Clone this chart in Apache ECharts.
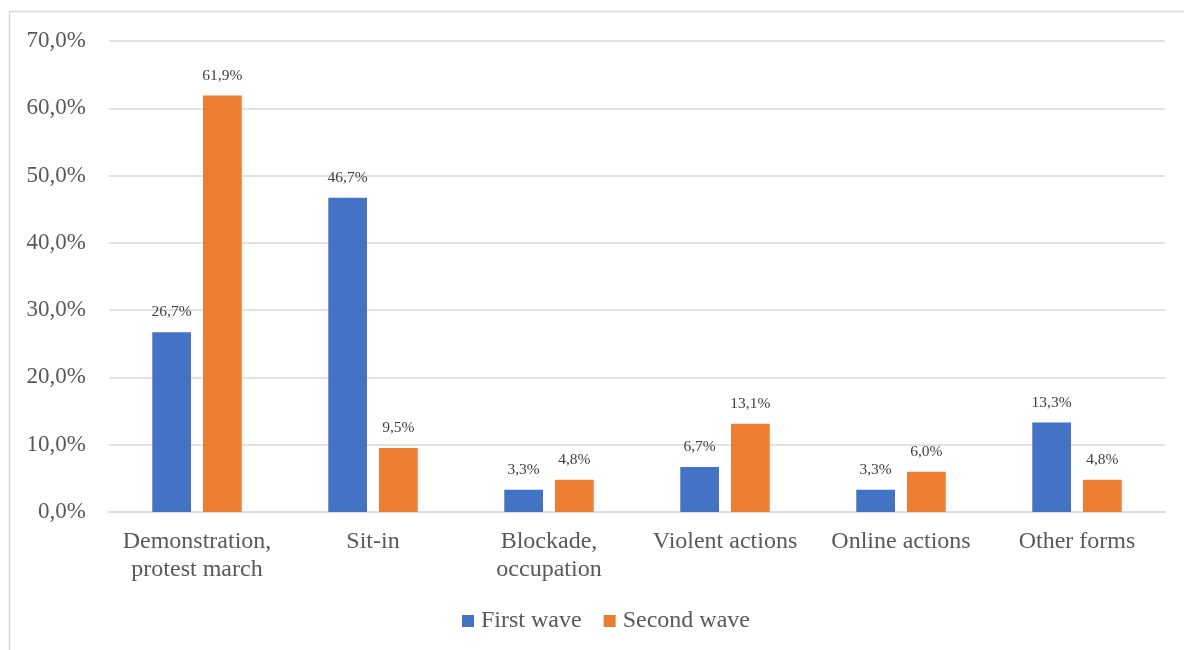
<!DOCTYPE html>
<html>
<head>
<meta charset="utf-8">
<script src="https://cdn.jsdelivr.net/npm/echarts@6/dist/echarts.min.js"></script>
<style>
  html, body { margin: 0; padding: 0; background: #fff; }
  #chart { width: 1184px; height: 650px; }
</style>
</head>
<body>
<div id="chart"></div>
<script>
// Forms of protest action, share by wave
const categories = ['Demonstration,\nprotest march', 'Sit-in', 'Blockade,\noccupation', 'Violent actions', 'Online actions', 'Other forms'];
const firstWave = [26.7, 46.7, 3.3, 6.7, 3.3, 13.3];
const secondWave = [61.9, 9.5, 4.8, 13.1, 6.0, 4.8];
const seriesNames = ['First wave', 'Second wave'];

const FONT = '"Liberation Serif", "Times New Roman", serif';
const fmt = v => v.toFixed(1).replace('.', ',') + '%';

const chart = echarts.init(document.getElementById('chart'));
chart.setOption({
  animation: false,
  textStyle: { fontFamily: FONT },
  graphic: [{
    type: 'rect',
    shape: { x: 9.5, y: 11.5, width: 1300, height: 800 },
    style: { fill: 'none', stroke: '#d9d9d9', lineWidth: 1.5 },
    silent: true, z: -1
  }],
  grid: { left: 109, right: 19, top: 41, bottom: 138 },
  legend: {
    data: seriesNames,
    left: 457,
    bottom: 12,
    itemWidth: 12, itemHeight: 12, itemGap: 22,
    icon: 'rect',
    textStyle: { fontFamily: FONT, fontSize: 24, color: '#595959', padding: [0, 0, 0, 2] }
  },
  xAxis: {
    type: 'category',
    data: categories,
    axisLine: { lineStyle: { color: '#d9d9d9', width: 1.5 } },
    axisTick: { show: false },
    axisLabel: { fontFamily: FONT, fontSize: 24, color: '#595959', lineHeight: 28, margin: 16, interval: 0 }
  },
  yAxis: {
    type: 'value',
    min: 0, max: 70, interval: 10,
    axisLine: { show: false },
    axisTick: { show: false },
    splitLine: { lineStyle: { color: '#d9d9d9', width: 1.5 } },
    axisLabel: { fontFamily: FONT, fontSize: 23, color: '#595959', margin: 23, formatter: v => fmt(v) }
  },
  series: [
    {
      name: seriesNames[0], type: 'bar', data: firstWave,
      barWidth: '22%', barGap: '31%',
      itemStyle: { color: '#4472c4' },
      label: { show: true, position: 'top', distance: 12, fontFamily: FONT, fontSize: 15.5, color: '#404040', formatter: p => fmt(p.value) }
    },
    {
      name: seriesNames[1], type: 'bar', data: secondWave,
      barWidth: '22%', barGap: '31%',
      itemStyle: { color: '#ed7d31' },
      label: { show: true, position: 'top', distance: 12, fontFamily: FONT, fontSize: 15.5, color: '#404040', formatter: p => fmt(p.value) }
    }
  ]
});
</script>
</body>
</html>
